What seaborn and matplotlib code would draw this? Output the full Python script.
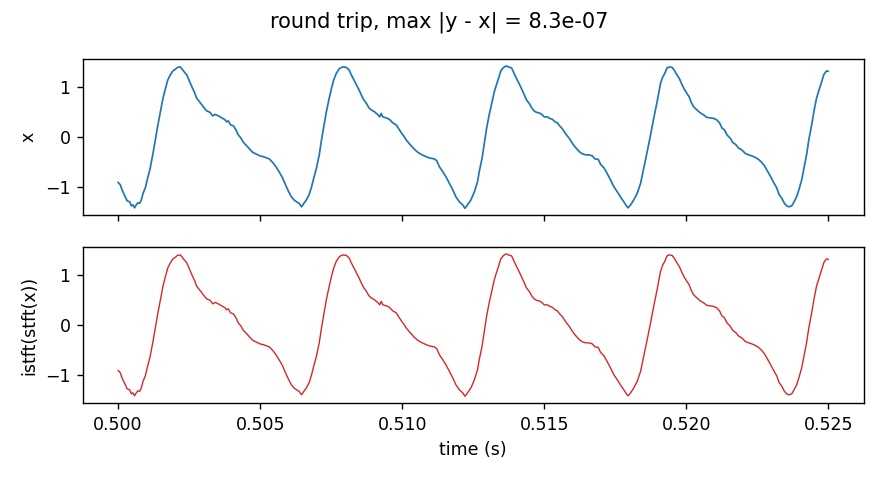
import numpy as np
import pandas as pd
import seaborn as sns
import matplotlib
matplotlib.use("Agg")
import matplotlib.pyplot as plt

# time offsets in ms from 0.5 s
t_ms = [0.00, 0.08, 0.14, 0.22, 0.32, 0.41, 0.47, 0.52, 0.58, 0.64, 0.70, 0.76, 0.82, 0.88, 0.96,
        1.04, 1.13, 1.23, 1.31, 1.39, 1.49, 1.58, 1.66, 1.75, 1.84, 1.93, 2.01, 2.09, 2.19, 2.25,
        2.33, 2.42, 2.51, 2.60, 2.69, 2.77, 2.87, 2.95, 3.03, 3.12, 3.24, 3.33, 3.42, 3.53, 3.65,
        3.77, 3.82, 3.88, 3.96, 4.06, 4.15, 4.23, 4.32, 4.41, 4.53, 4.64, 4.74, 4.88, 4.99, 5.13,
        5.23, 5.32, 5.44, 5.56, 5.67, 5.79, 5.87, 5.99,
        6.10, 6.19, 6.28, 6.37, 6.46, 6.54, 6.63, 6.73, 6.81, 6.89, 6.98, 7.08, 7.16, 7.24, 7.33,
        7.43, 7.51, 7.59, 7.68, 7.78, 7.86, 7.94, 8.03, 8.13, 8.21, 8.30, 8.39, 8.48, 8.56, 8.64,
        8.74, 8.83, 8.91, 9.03, 9.15, 9.21, 9.26, 9.32, 9.44, 9.55, 9.67, 9.79, 9.88, 9.97, 10.05,
        10.14, 10.24, 10.32, 10.43, 10.55, 10.67, 10.78, 10.90, 11.02, 11.13, 11.22, 11.31, 11.43,
        11.54, 11.66, 11.78, 11.89, 12.01, 12.13, 12.21, 12.30, 12.42, 12.54, 12.65,
        12.71, 12.81, 12.89, 12.97, 13.06, 13.16, 13.24, 13.32, 13.39, 13.47, 13.55, 13.65, 13.74,
        13.85, 13.94, 14.02, 14.12, 14.21, 14.29, 14.37, 14.47, 14.56, 14.64, 14.73, 14.82, 14.91,
        15.00, 15.11, 15.19, 15.29, 15.38, 15.46, 15.54, 15.64, 15.73, 15.81, 15.89, 15.99, 16.08,
        16.16, 16.24, 16.34, 16.46, 16.57, 16.69, 16.78, 16.90, 16.98, 17.10, 17.21, 17.33, 17.45,
        17.57, 17.68, 17.80, 17.89, 17.95, 18.04, 18.15, 18.27, 18.39, 18.50, 18.62, 18.74, 18.85,
        18.97,
        19.09, 19.17, 19.24, 19.32, 19.40, 19.50, 19.59, 19.67, 19.76, 19.85, 19.94, 20.02, 20.10,
        20.17, 20.26, 20.37, 20.49, 20.61, 20.72, 20.84, 20.96, 21.07, 21.17, 21.25, 21.34, 21.43,
        21.55, 21.63, 21.75, 21.83, 21.95, 22.07, 22.19, 22.30, 22.42, 22.54, 22.65, 22.75, 22.83,
        22.95, 23.06, 23.18, 23.26, 23.36, 23.45, 23.53, 23.61, 23.71, 23.79, 23.88, 23.96, 24.06,
        24.15, 24.23, 24.31, 24.41, 24.50, 24.58, 24.67, 24.76, 24.84, 24.93, 25.00]

x_vals = [-0.90, -0.95, -1.05, -1.15, -1.27, -1.29, -1.37, -1.35, -1.41, -1.35, -1.31, -1.32, -1.25, -1.12, -1.01,
          -0.82, -0.62, -0.32, -0.05, 0.21, 0.51, 0.78, 0.96, 1.15, 1.25, 1.33, 1.36, 1.40, 1.41, 1.37,
          1.31, 1.25, 1.13, 1.01, 0.90, 0.78, 0.71, 0.65, 0.59, 0.53, 0.50, 0.43, 0.46, 0.43, 0.39,
          0.35, 0.31, 0.33, 0.25, 0.23, 0.15, 0.05, -0.01, -0.10, -0.17, -0.24, -0.30, -0.34, -0.37, -0.39,
          -0.41, -0.43, -0.50, -0.59, -0.69, -0.81, -0.92, -1.07,
          -1.19, -1.25, -1.29, -1.32, -1.39, -1.32, -1.25, -1.14, -0.99, -0.81, -0.62, -0.35, -0.05, 0.21, 0.51,
          0.78, 0.98, 1.15, 1.28, 1.37, 1.40, 1.41, 1.40, 1.35, 1.25, 1.15, 1.05, 0.95, 0.85, 0.76,
          0.68, 0.59, 0.55, 0.51, 0.45, 0.41, 0.48, 0.41, 0.39, 0.36, 0.29, 0.25, 0.17, 0.09, 0.03,
          -0.05, -0.12, -0.17, -0.24, -0.30, -0.34, -0.37, -0.40, -0.42, -0.43, -0.47, -0.59, -0.69,
          -0.79, -0.92, -1.05, -1.19, -1.29, -1.35, -1.42, -1.35, -1.25, -1.09, -0.89,
          -0.69, -0.42, -0.12, 0.18, 0.45, 0.71, 0.91, 1.06, 1.18, 1.33, 1.39, 1.43, 1.41,
          1.39, 1.28, 1.18, 1.07, 0.96, 0.86, 0.75, 0.68, 0.59, 0.53, 0.50, 0.49, 0.46,
          0.41, 0.41, 0.38, 0.36, 0.31, 0.29, 0.23, 0.17, 0.09, 0.03, -0.03, -0.12, -0.19,
          -0.24, -0.29, -0.33, -0.35, -0.35, -0.37, -0.43, -0.44, -0.54, -0.61, -0.72, -0.85, -0.99,
          -1.09, -1.19, -1.29, -1.37, -1.41, -1.35, -1.25, -1.12, -0.92, -0.62, -0.29, 0.05, 0.38,
          0.71,
          1.08, 1.21, 1.28, 1.39, 1.41, 1.40, 1.33, 1.25, 1.17, 1.05, 0.95, 0.88, 0.81,
          0.70, 0.61, 0.55, 0.49, 0.45, 0.40, 0.39, 0.38, 0.35, 0.29, 0.19, 0.15, 0.05,
          -0.02, -0.10, -0.15, -0.21, -0.25, -0.32, -0.35, -0.37, -0.40, -0.44, -0.50, -0.57, -0.65,
          -0.77, -0.89, -1.01, -1.14, -1.22, -1.32, -1.37, -1.39, -1.37, -1.29, -1.19, -1.05, -0.85,
          -0.59, -0.35, -0.05, 0.25, 0.55, 0.78, 0.95, 1.11, 1.26, 1.33, 1.32]

# round trip is identical to within 1e-6, so the reconstruction draws the same values
y_vals = list(x_vals)

max_err = 8.3e-07

df = pd.DataFrame({"time": 0.5 + np.array(t_ms) / 1000.0, "x": x_vals, "y": y_vals})

sns.set_style("ticks")
plt.rcParams["font.family"] = ["DejaVu Sans"]
plt.rcParams["axes.edgecolor"] = "black"
plt.rcParams["axes.labelcolor"] = "black"
plt.rcParams["text.color"] = "black"
plt.rcParams["xtick.color"] = "black"
plt.rcParams["ytick.color"] = "black"

fig, (ax1, ax2) = plt.subplots(2, 1, sharex=True, figsize=(7.024, 3.824), dpi=125)
fig.subplots_adjust(left=0.094, right=0.984, top=0.877, bottom=0.156, hspace=0.2)

sns.lineplot(data=df, x="time", y="x", ax=ax1, color="#1f77b4", linewidth=1.0)
sns.lineplot(data=df, x="time", y="y", ax=ax2, color="#d62728", linewidth=0.8)

ax1.set_ylabel("x")
ax1.set_xlabel("")
ax2.set_ylabel("istft(stft(x))")
ax2.set_xlabel("time (s)")
ax2.set_xticks([0.500, 0.505, 0.510, 0.515, 0.520, 0.525])
ax2.set_xticklabels(["0.500", "0.505", "0.510", "0.515", "0.520", "0.525"])

fig.suptitle(f"round trip, max |y - x| = {max_err:.1e}", fontsize=12, y=0.975)

plt.savefig("out.png", dpi=125)
